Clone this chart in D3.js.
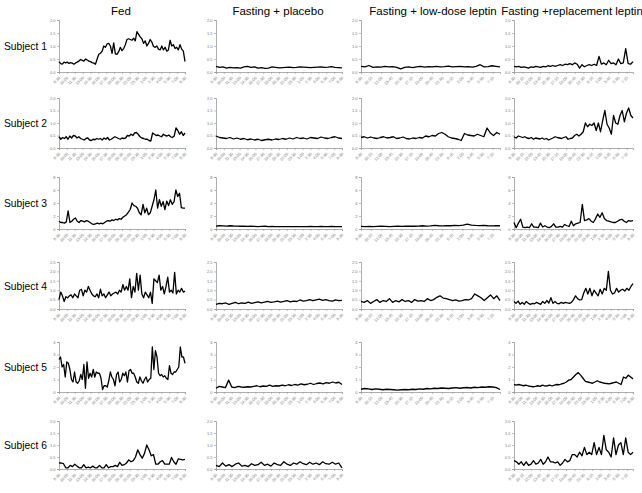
<!DOCTYPE html>
<html><head><meta charset="utf-8">
<script src="https://cdn.jsdelivr.net/npm/d3@7"></script>
<style>body{margin:0;background:#fff}svg{display:block}</style>
</head><body>
<svg id="c" width="642" height="493"></svg>
<script>
const conditions = ["Fed","Fasting + placebo","Fasting + low-dose leptin","Fasting +replacement leptin"];
const subjects = ["Subject 1","Subject 2","Subject 3","Subject 4","Subject 5","Subject 6"];
const yMax = [2, 2, 8, 2.5, 4, 2];
const yTicks = [[0,0.5,1,1.5,2],[0,0.5,1,1.5,2],[0,2,4,6,8],[0,0.5,1,1.5,2,2.5],[0,1,2,3,4],[0,0.5,1,1.5,2]];
const timesA = ["8:30","10:00","11:30","13:00","14:30","16:00","17:30","19:00","20:30","22:00","23:30","1:00","2:30","4:00","5:30","7:00","8:30"];
const timesB = ["8:30","10:15","12:00","13:45","15:30","17:15","19:00","20:45","22:30","0:15","2:00","3:45","5:30","7:15"];

// Fed
const fed1 = [0.40,0.32,0.30,0.38,0.35,0.38,0.33,0.36,0.34,0.30,0.35,0.38,0.42,0.48,0.45,0.42,0.50,0.46,0.42,0.40,0.36,0.34,0.30,0.50,0.68,0.72,0.80,1.00,0.95,1.08,1.10,1.00,0.72,1.12,0.70,0.68,0.78,0.95,0.82,0.90,1.05,1.25,1.28,1.25,1.22,1.30,1.20,1.55,1.45,1.35,1.28,1.10,1.20,1.00,1.10,1.25,1.15,0.98,0.95,1.00,0.88,0.85,1.00,0.85,0.95,0.80,0.85,1.22,1.00,1.05,0.90,0.95,0.85,1.05,0.88,0.80,0.40];
const fed2 = [0.45,0.35,0.42,0.38,0.45,0.35,0.48,0.40,0.50,0.48,0.40,0.45,0.38,0.35,0.32,0.38,0.40,0.32,0.30,0.35,0.33,0.38,0.35,0.38,0.32,0.40,0.35,0.42,0.32,0.35,0.40,0.45,0.42,0.38,0.35,0.40,0.38,0.40,0.50,0.48,0.55,0.50,0.60,0.62,0.55,0.45,0.40,0.38,0.35,0.35,0.30,0.28,0.60,0.55,0.50,0.52,0.48,0.45,0.55,0.50,0.48,0.52,0.45,0.42,0.48,0.80,0.70,0.55,0.65,0.50,0.60];
const fed3 = [1.2,1.0,1.0,0.9,1.1,2.8,1.0,1.2,1.5,1.7,1.2,1.0,1.3,1.2,1.1,1.3,1.2,1.0,0.8,0.7,0.8,0.9,0.8,0.9,0.8,1.0,1.2,1.3,1.2,1.4,1.3,1.5,1.4,1.6,1.5,1.8,2.0,2.2,2.6,3.0,4.0,3.6,3.5,3.2,2.5,2.2,3.8,2.5,3.2,2.2,2.5,3.5,4.5,6.0,3.2,4.5,3.5,4.2,3.0,4.3,3.6,4.5,3.8,4.2,6.0,5.0,5.5,3.3,3.2,3.2];
const fed4 = [0.50,0.90,0.70,0.40,0.65,0.60,0.70,0.75,0.60,0.80,0.70,0.60,1.00,1.05,0.70,1.00,0.90,1.20,1.00,0.80,0.70,0.65,0.80,0.60,1.05,0.70,0.80,0.60,0.75,0.90,0.70,0.80,0.85,0.90,0.80,1.00,0.90,1.30,1.00,1.20,1.00,1.60,0.60,1.20,0.90,1.90,1.00,1.80,0.80,0.60,0.90,0.75,0.60,0.90,0.30,1.60,1.50,1.40,1.80,1.00,1.20,0.80,1.20,1.70,0.90,1.00,0.85,1.95,0.80,1.00,0.90,1.10,0.90,0.95];
const fed5 = [2.6,2.8,2.0,2.2,1.2,2.4,2.3,1.8,1.0,0.8,1.6,0.8,0.7,0.9,1.4,1.0,2.2,0.3,2.4,1.1,1.5,1.2,1.8,1.2,1.6,1.5,1.5,1.1,0.2,0.5,0.5,0.4,0.9,1.6,1.2,1.0,0.5,1.4,1.6,0.8,1.0,1.5,1.3,1.6,0.8,1.7,1.8,1.5,1.5,1.2,0.8,0.7,1.2,0.9,0.7,1.0,1.2,0.8,1.0,1.1,3.6,1.8,3.3,2.8,1.5,1.3,1.4,1.2,1.3,1.1,1.0,2.1,1.5,1.4,1.6,1.6,1.8,2.0,3.6,2.8,2.8,2.3];
const fed6 = [0.25,0.25,0.22,0.05,0.05,0.15,0.10,0.20,0.12,0.05,0.05,0.18,0.05,0.08,0.05,0.12,0.05,0.05,0.15,0.05,0.05,0.18,0.05,0.10,0.10,0.15,0.10,0.28,0.15,0.18,0.25,0.38,0.30,0.35,0.50,0.80,0.60,0.45,0.65,1.00,0.80,0.55,0.60,0.20,0.20,0.30,0.35,0.20,0.20,0.20,0.48,0.30,0.20,0.42,0.40,0.38,0.40];

// Fasting + placebo
const pla1 = [0.22,0.18,0.20,0.15,0.18,0.16,0.17,0.15,0.20,0.22,0.18,0.20,0.15,0.17,0.14,0.15,0.20,0.18,0.16,0.17,0.18,0.19,0.17,0.18,0.20,0.19,0.18,0.17,0.18,0.19,0.20,0.18,0.19,0.21,0.18,0.17,0.16];
const pla2 = [0.48,0.42,0.40,0.38,0.42,0.36,0.40,0.35,0.38,0.33,0.36,0.32,0.35,0.30,0.33,0.35,0.32,0.36,0.34,0.38,0.35,0.40,0.36,0.42,0.38,0.40,0.36,0.42,0.40,0.38,0.44,0.40,0.38,0.42,0.45,0.40,0.38];
const pla3 = [0.45,0.50,0.48,0.45,0.50,0.46,0.45,0.42,0.44,0.40,0.42,0.40,0.38,0.40,0.42,0.38,0.40,0.36,0.38,0.35,0.38,0.36,0.35,0.38,0.36,0.35,0.38,0.40,0.36,0.38,0.40,0.38,0.36,0.40,0.38,0.36,0.35];
const pla4 = [0.25,0.30,0.28,0.32,0.25,0.30,0.35,0.28,0.32,0.30,0.36,0.30,0.34,0.38,0.32,0.36,0.40,0.35,0.38,0.42,0.36,0.40,0.45,0.38,0.42,0.40,0.48,0.42,0.45,0.50,0.44,0.48,0.52,0.46,0.50,0.45,0.42,0.48,0.44,0.46];
const pla5 = [0.30,0.45,0.40,0.35,0.95,0.40,0.35,0.45,0.40,0.38,0.42,0.40,0.45,0.50,0.42,0.48,0.45,0.55,0.45,0.50,0.48,0.55,0.50,0.58,0.52,0.60,0.55,0.65,0.58,0.62,0.70,0.60,0.68,0.72,0.65,0.75,0.70,0.80,0.72,0.78,0.60];
const pla6 = [0.15,0.10,0.25,0.12,0.18,0.10,0.20,0.25,0.12,0.15,0.10,0.22,0.15,0.18,0.28,0.15,0.20,0.12,0.25,0.18,0.15,0.30,0.20,0.15,0.25,0.20,0.30,0.22,0.18,0.28,0.20,0.25,0.18,0.30,0.22,0.20,0.28,0.20,0.25,0.05];

// Fasting + low-dose leptin
const low1 = [0.22,0.20,0.25,0.18,0.20,0.19,0.22,0.20,0.21,0.18,0.12,0.18,0.20,0.17,0.20,0.22,0.19,0.21,0.20,0.22,0.20,0.21,0.23,0.20,0.21,0.22,0.20,0.21,0.19,0.22,0.28,0.20,0.21,0.24,0.22,0.20];
const low2 = [0.42,0.45,0.40,0.44,0.40,0.38,0.42,0.45,0.40,0.42,0.45,0.38,0.40,0.44,0.38,0.36,0.40,0.38,0.42,0.40,0.48,0.45,0.50,0.48,0.58,0.62,0.55,0.45,0.40,0.38,0.35,0.30,0.58,0.52,0.50,0.48,0.55,0.50,0.45,0.80,0.60,0.50,0.62,0.55];
const low3 = [0.40,0.38,0.40,0.38,0.40,0.42,0.40,0.38,0.40,0.42,0.40,0.42,0.45,0.42,0.45,0.50,0.45,0.48,0.55,0.50,0.48,0.52,0.50,0.55,0.52,0.60,0.75,0.60,0.55,0.52,0.55,0.50,0.48,0.52,0.50];
const low4 = [0.40,0.35,0.45,0.30,0.40,0.50,0.35,0.45,0.40,0.55,0.35,0.45,0.38,0.50,0.40,0.45,0.35,0.50,0.42,0.45,0.40,0.55,0.45,0.50,0.62,0.70,0.58,0.55,0.50,0.45,0.48,0.42,0.45,0.50,0.48,0.55,0.80,0.70,0.60,0.45,0.60,0.75,0.55,0.70,0.45];
const low5 = [0.22,0.28,0.25,0.20,0.25,0.22,0.18,0.22,0.20,0.18,0.15,0.18,0.20,0.18,0.22,0.20,0.25,0.22,0.28,0.25,0.30,0.28,0.32,0.30,0.28,0.32,0.35,0.30,0.34,0.36,0.32,0.38,0.35,0.40,0.38,0.42,0.40,0.35,0.20];

// Fasting + replacement leptin
const rep1 = [0.22,0.20,0.22,0.18,0.20,0.18,0.15,0.20,0.18,0.22,0.20,0.18,0.22,0.20,0.24,0.22,0.25,0.22,0.25,0.28,0.25,0.30,0.28,0.32,0.28,0.35,0.30,0.15,0.28,0.20,0.25,0.28,0.25,0.30,0.25,0.60,0.30,0.35,0.28,0.45,0.32,0.35,0.28,0.50,0.32,0.35,0.90,0.32,0.30,0.40];
const rep2 = [0.45,0.40,0.48,0.45,0.42,0.45,0.40,0.38,0.42,0.35,0.40,0.38,0.36,0.40,0.35,0.38,0.32,0.36,0.40,0.45,0.42,0.40,0.38,0.42,0.45,0.35,0.38,0.40,0.50,0.55,0.48,0.55,0.65,1.00,0.85,0.95,0.90,1.00,0.70,1.00,0.65,1.10,1.50,0.95,0.80,0.55,1.30,1.00,0.95,1.30,1.50,1.05,1.40,1.60,1.30,1.20];
const rep3 = [1.0,0.2,0.9,1.5,0.3,0.2,0.3,0.2,0.8,0.3,0.3,0.2,0.9,0.3,0.5,0.3,0.2,0.4,0.8,0.3,0.3,0.4,0.3,0.7,0.5,0.4,1.2,0.5,0.8,0.9,1.0,3.8,1.3,1.4,1.6,1.2,1.0,1.6,2.3,1.8,2.5,1.6,1.3,1.2,1.1,1.0,1.0,1.2,1.4,1.5,1.2,1.0,1.3,1.2,1.3];
const rep4 = [0.40,0.30,0.42,0.25,0.35,0.25,0.40,0.30,0.25,0.30,0.28,0.35,0.30,0.25,0.40,0.30,0.45,0.32,0.60,0.30,0.40,0.30,0.28,0.35,0.30,0.35,0.32,0.30,0.35,0.50,0.70,0.55,0.48,0.50,0.85,1.10,0.80,1.10,0.70,1.00,0.85,0.70,1.05,0.80,1.10,1.00,2.00,1.00,0.80,0.85,1.10,0.90,1.00,1.05,0.95,1.10,1.00,1.20,1.35];
const rep5 = [0.60,0.55,0.60,0.55,0.50,0.55,0.48,0.45,0.42,0.45,0.50,0.45,0.55,0.48,0.50,0.55,0.48,0.55,0.60,0.58,0.65,0.70,0.80,0.95,1.00,1.20,1.40,1.55,1.35,1.10,0.85,0.80,0.75,0.70,0.80,0.90,0.80,0.75,0.70,0.68,0.65,0.70,0.75,0.80,0.70,0.60,1.20,1.10,1.35,1.20,1.05];
const rep6 = [0.35,0.30,0.20,0.30,0.15,0.30,0.15,0.20,0.35,0.20,0.25,0.40,0.20,0.30,0.50,0.30,0.30,0.25,0.30,0.15,0.25,0.40,0.30,0.35,0.60,0.60,0.50,0.70,0.55,0.90,0.60,0.70,0.60,1.10,0.60,0.90,0.60,1.40,0.80,0.70,0.50,1.30,0.60,1.00,1.10,0.60,1.30,0.70,0.60,0.70];

const seriesGrid = [
  [fed1, pla1, low1, rep1],
  [fed2, pla2, low2, rep2],
  [fed3, pla3, low3, rep3],
  [fed4, pla4, low4, rep4],
  [fed5, pla5, low5, rep5],
  [fed6, pla6, null, rep6]
];
const labelGrid = [
  [timesA, timesA, timesB, timesB],
  [timesA, timesA, timesB, timesB],
  [timesA, timesA, timesB, timesA],
  [timesA, timesA, timesB, timesA],
  [timesA, timesA, timesB, timesA],
  [timesA, timesA, null, timesB]
];

// layout
const colX = [[59,185],[216,342],[361,500],[514,633]];
const rowY = [[20,72],[98,148],[177,229],[262,309],[342,392],[421,469]];
const titleX = [121,278,433,572];

const svg = d3.select("#c");
const font = "Liberation Sans, Arial, sans-serif";

conditions.forEach((t,i)=>{
  svg.append("text").attr("x",titleX[i]).attr("y",15).attr("text-anchor","middle")
    .attr("font-family",font).attr("font-size",11.5).attr("fill","#000").text(t);
});
subjects.forEach((s,r)=>{
  svg.append("text").attr("x",4).attr("y",(rowY[r][0]+rowY[r][1])/2+4).attr("font-family",font)
    .attr("font-size",10.3).attr("fill","#000").text(s);
});

seriesGrid.forEach((row,r)=>{
  row.forEach((data,c)=>{
    if(!data) return;
    const labels = labelGrid[r][c];
    const step = labels === timesA ? 90 : 105;
    const x = d3.scaleLinear().domain([0,1440]).range(colX[c]);
    const y = d3.scaleLinear().domain([0,yMax[r]]).range([rowY[r][1], rowY[r][0]]);
    const g = svg.append("g");
    const fmt = yMax[r] % 1 === 0 && yMax[r] > 2 ? d3.format("d") : d3.format(".1f");
    const ya = g.append("g").attr("transform",`translate(${colX[c][0]},0)`)
      .call(d3.axisLeft(y).tickValues(yTicks[r]).tickSize(2).tickPadding(1.5).tickFormat(fmt));
    const xa = g.append("g").attr("transform",`translate(0,${rowY[r][1]})`)
      .call(d3.axisBottom(x).tickValues(labels.map((l,i)=>i*step)).tickSize(2).tickPadding(1)
        .tickFormat((d,i)=>labels[i]));
    [ya,xa].forEach(a=>{
      a.select(".domain").attr("stroke","#999").attr("stroke-width",0.8);
      a.selectAll(".tick line").attr("stroke","#999").attr("stroke-width",0.6);
      a.selectAll("text").attr("font-family",font).attr("font-size",4).attr("fill","#777");
    });
    xa.selectAll("text").attr("text-anchor","end").attr("dy",0)
      .attr("transform","translate(-1,4) rotate(-45)");
    const n = data.length;
    const line = d3.line().x((d,i)=>x(i/(n-1)*1440)).y(d=>y(d));
    g.append("path").datum(data).attr("d",line).attr("fill","none")
      .attr("stroke","#000").attr("stroke-width",1.3).attr("stroke-linejoin","round");
  });
});
</script>
</body></html>
